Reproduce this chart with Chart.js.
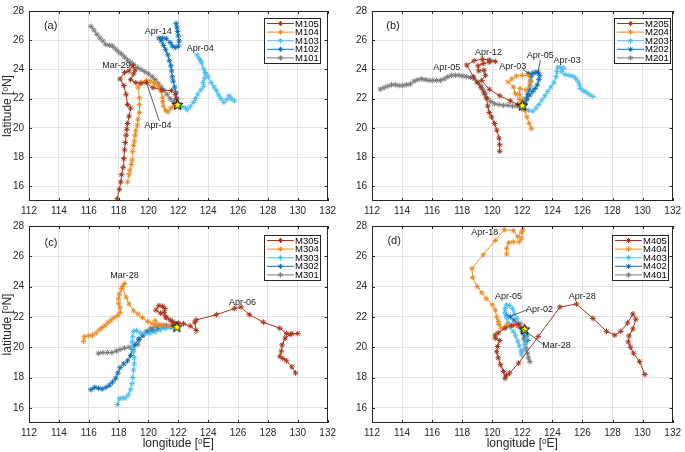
<!DOCTYPE html>
<html>
<head>
<meta charset="utf-8">
<script src="https://cdn.jsdelivr.net/npm/chart.js@4.4.1/dist/chart.umd.min.js"></script>
<style>
  body { margin: 0; background: #fff; }
  #wrap { position: relative; width: 685px; height: 452px; overflow: hidden; }
  canvas { position: absolute; }
</style>
</head>
<body>
<div id="wrap">
  <canvas id="pa" width="340" height="215" style="left:0;top:0"></canvas>
  <canvas id="pb" width="345" height="215" style="left:340px;top:0"></canvas>
  <canvas id="pc" width="340" height="237" style="left:0;top:215px"></canvas>
  <canvas id="pd" width="345" height="237" style="left:340px;top:215px"></canvas>
</div>
<script>
// axis ticks
const xTicks = [112, 114, 116, 118, 120, 122, 124, 126, 128, 130, 132];
const yTicks = [16, 18, 20, 22, 24, 26, 28];
const seriesColors = ['#a5351b', '#ec8b22', '#4dbeee', '#0a70ba', '#7b7b7b'];

// panel (a)  -- [lon, lat]
const namesA = ['M105', 'M104', 'M103', 'M102', 'M101'];
const startA = [121.95, 21.6];
const m105 = [[117.9,15.15],[118.05,15.8],[118.15,16.3],[118.2,16.8],[118.3,17.3],[118.35,17.9],[118.4,18.5],[118.45,19.0],[118.5,19.5],[118.55,19.9],[118.6,20.3],[118.7,20.8],[118.8,21.35],[118.6,21.6],[118.5,22.3],[118.35,22.9],[118.1,23.35],[118.4,23.8],[118.7,23.9],[118.95,24.25],[119.1,23.95],[119.0,23.7],[118.8,23.3],[119.15,23.1],[119.5,23.05],[119.85,23.1],[120.3,22.75],[120.9,22.6],[121.55,22.55],[121.8,22.3],[121.85,22.0],[121.95,21.6]];
const m104 = [[118.6,16.3],[118.7,16.8],[118.75,17.1],[118.85,17.5],[118.9,17.8],[118.95,18.4],[119.0,18.8],[119.05,19.1],[119.1,19.5],[119.15,19.8],[119.25,20.2],[119.3,20.6],[119.4,21.05],[119.4,21.6],[119.4,22.05],[119.3,22.8],[119.5,23.1],[119.85,23.25],[120.15,23.2],[120.4,23.05],[120.65,22.85],[120.85,22.5],[120.95,22.1],[120.95,21.8],[121.0,21.5],[121.15,21.2],[121.3,21.1],[121.5,21.35],[121.7,21.5],[121.95,21.6]];
const m103 = [[121.95,21.6],[122.2,21.45],[122.45,21.4],[122.6,21.25],[122.8,21.45],[123.0,21.75],[123.15,22.0],[123.3,22.3],[123.5,22.6],[123.7,22.85],[123.65,23.1],[123.75,23.4],[123.85,23.7],[123.7,24.05],[123.55,24.45],[123.4,24.75],[123.25,25.0],[123.5,24.6],[123.8,23.8],[124.0,23.5],[124.2,23.1],[124.4,22.8],[124.55,22.55],[124.7,22.25],[124.85,22.0],[125.05,21.75],[125.25,21.95],[125.4,22.2],[125.55,22.0],[125.75,21.85]];
const m102 = [[121.95,21.6],[121.9,22.0],[121.85,22.4],[121.75,22.8],[121.65,23.2],[121.6,23.5],[121.55,23.9],[121.5,24.25],[121.4,24.6],[121.3,25.0],[121.15,25.35],[121.0,25.65],[120.85,25.95],[120.7,26.15],[120.95,26.15],[121.2,26.1],[121.45,25.85],[121.6,25.6],[121.8,25.5],[122.0,25.6],[122.05,25.95],[122.0,26.3],[121.95,26.6],[121.9,26.9],[121.85,27.15]];
const m101 = [[116.15,26.95],[116.35,26.7],[116.55,26.4],[116.75,26.15],[116.95,25.95],[117.15,25.7],[117.4,25.65],[117.6,25.6],[117.8,25.4],[118.0,25.2],[118.2,25.05],[118.4,24.85],[118.6,24.65],[118.8,24.5],[119.0,24.35],[119.25,24.15],[119.5,24.0],[119.75,23.85],[120.0,23.7],[120.25,23.5],[120.45,23.3],[120.65,23.05],[120.85,22.8],[121.05,22.55],[121.25,22.3],[121.45,22.0],[121.65,21.8],[121.95,21.6]];

// panel (b)
const namesB = ['M205', 'M204', 'M203', 'M202', 'M201'];
const startB = [122.0, 21.55];
const m205 = [[120.5,18.4],[120.5,18.85],[120.45,19.3],[120.3,19.85],[120.15,20.3],[119.95,20.75],[119.8,21.05],[119.7,21.5],[119.6,22.05],[119.45,22.4],[119.25,22.75],[119.0,23.1],[118.75,23.5],[118.3,24.3],[118.8,24.6],[119.35,24.7],[119.8,24.65],[120.2,24.55],[119.8,24.5],[119.4,24.4],[119.05,24.25],[119.1,23.9],[119.45,23.95],[119.55,23.6],[119.3,23.25],[119.8,22.65],[120.5,22.2],[121.2,21.85],[121.7,21.6],[122.0,21.55]];
const m204 = [[122.6,19.95],[122.45,20.3],[122.3,20.75],[122.15,21.2],[122.0,21.55],[121.8,21.95],[121.55,22.35],[121.4,22.8],[121.05,23.15],[121.3,23.35],[121.6,23.55],[122.0,23.6],[122.4,23.6],[122.55,23.2],[122.5,22.9],[122.25,22.6],[121.85,22.7],[121.8,22.3],[122.05,21.95]];
const m203 = [[122.0,21.55],[122.2,21.3],[122.4,21.2],[122.7,21.15],[122.9,21.35],[123.1,21.6],[123.3,21.9],[123.5,22.2],[123.7,22.5],[123.9,22.8],[124.1,23.1],[124.25,23.5],[124.3,23.85],[124.35,24.15],[124.55,24.15],[124.75,24.1],[124.6,23.85],[124.85,23.65],[125.1,23.6],[125.35,23.55],[125.55,23.4],[125.7,23.2],[125.8,22.95],[125.85,22.7],[126.05,22.55],[126.25,22.45],[126.45,22.3],[126.7,22.15]];
const m202 = [[122.0,21.55],[122.05,21.3],[122.15,21.7],[122.25,22.0],[122.35,22.3],[122.45,22.6],[122.5,22.9],[122.55,23.2],[122.6,23.55],[122.4,23.7],[122.7,23.75],[122.9,23.8],[123.05,23.8],[123.15,23.6],[123.1,23.3],[123.0,22.95],[122.85,22.7],[122.7,22.5],[122.5,22.25],[122.3,21.95],[122.15,21.65]];
const m201 = [[112.55,22.65],[112.8,22.75],[113.05,22.85],[113.3,22.95],[113.55,22.95],[113.8,22.9],[114.05,22.9],[114.3,22.95],[114.55,23.0],[114.8,23.2],[115.05,23.3],[115.3,23.35],[115.55,23.3],[115.8,23.25],[116.05,23.25],[116.3,23.25],[116.55,23.25],[116.8,23.35],[117.05,23.5],[117.3,23.6],[117.55,23.6],[117.8,23.6],[118.05,23.55],[118.3,23.5],[118.55,23.45],[118.8,23.35],[119.05,23.15],[119.25,22.9],[119.4,22.6],[119.55,22.3],[119.7,22.0],[119.9,21.8],[120.15,21.65],[120.45,21.6],[120.75,21.55],[121.05,21.55],[121.35,21.5],[121.65,21.5],[122.0,21.55]];

// panel (c)
const namesC = ['M305', 'M304', 'M303', 'M302', 'M301'];
const startC = [121.9, 21.35];
const m305 = [[121.9,21.35],[121.7,21.6],[121.45,21.8],[121.15,22.0],[121.05,22.3],[121.1,22.55],[120.95,22.7],[120.7,22.75],[120.5,22.45],[120.8,22.25],[121.2,21.95],[121.6,21.7],[122.0,21.6],[122.35,21.55],[122.8,21.4],[123.2,21.1],[123.1,21.65],[123.2,21.8],[124.55,22.15],[125.75,22.55],[126.2,22.65],[126.75,22.15],[127.7,21.65],[128.8,21.25],[129.25,20.9],[129.6,20.9],[130.0,20.9],[129.5,20.85],[129.15,20.6],[128.95,20.15],[128.9,19.75],[128.8,19.4],[129.0,19.25],[129.25,19.1],[129.6,18.7],[129.85,18.3]];
const m304 = [[115.65,20.4],[115.7,20.7],[116.0,20.75],[116.25,20.8],[116.5,20.95],[116.7,21.15],[116.9,21.3],[117.1,21.45],[117.3,21.65],[117.5,21.8],[117.7,21.95],[117.95,22.1],[118.1,22.3],[118.1,22.6],[118.0,22.9],[118.0,23.2],[118.05,23.5],[118.2,23.85],[118.4,24.2],[118.25,24.0],[118.5,23.3],[118.7,22.85],[119.0,22.4],[119.3,22.2],[119.6,21.95],[119.95,21.7],[120.25,21.55],[120.5,21.45],[120.45,21.75],[120.7,21.5],[121.0,21.45],[121.4,21.4],[121.9,21.35]];
const m303 = [[117.92,16.22],[118.05,16.6],[118.25,16.65],[118.45,16.65],[118.65,16.85],[118.8,17.2],[118.9,17.6],[118.95,18.0],[119.0,18.5],[119.05,18.9],[119.05,19.3],[119.0,19.7],[118.9,20.0],[118.9,20.35],[118.95,20.7],[119.0,21.05],[119.2,21.1],[119.45,20.95],[119.75,20.9],[120.1,20.9],[120.45,21.0],[120.8,21.15],[121.15,21.25],[121.5,21.3],[121.9,21.35]];
const m302 = [[116.15,17.2],[116.4,17.35],[116.65,17.3],[116.9,17.25],[117.15,17.35],[117.4,17.5],[117.6,17.7],[117.8,17.95],[117.95,18.3],[118.1,18.65],[118.35,18.9],[118.6,19.1],[118.8,19.45],[118.95,19.85],[119.1,20.2],[119.35,20.55],[119.65,20.8],[119.95,21.0],[120.3,21.1],[120.7,21.2],[121.1,21.3],[121.5,21.35],[121.9,21.35]];
const m301 = [[116.65,19.6],[116.95,19.65],[117.25,19.65],[117.55,19.65],[117.85,19.75],[118.1,19.85],[118.4,19.95],[118.7,20.0],[119.0,20.05],[119.3,20.2],[119.4,20.5],[119.6,20.8],[119.85,21.05],[120.15,21.25],[120.5,21.35],[120.85,21.45],[121.2,21.45],[121.55,21.4],[121.9,21.35]];

// panel (d)
const namesD = ['M405', 'M404', 'M403', 'M402', 'M401'];
const startD = [122.15, 21.2];
const m405 = [[122.15,21.2],[121.75,21.5],[121.3,21.45],[120.85,21.25],[120.4,20.95],[120.2,20.8],[120.2,20.6],[120.5,20.45],[120.35,20.05],[120.3,19.7],[120.4,19.3],[120.55,18.85],[120.75,18.4],[120.85,17.95],[120.95,18.15],[121.15,18.3],[121.75,18.95],[123.05,20.7],[124.5,22.65],[125.6,22.85],[126.7,21.9],[127.6,21.05],[128.15,20.8],[128.55,21.05],[129.0,21.6],[129.35,22.2],[129.55,21.85],[129.35,21.2],[129.1,20.75],[129.05,20.35],[129.2,20.0],[129.4,19.6],[129.8,19.05],[130.15,18.2]];
const m404 = [[122.15,21.2],[121.7,21.4],[121.4,21.45],[120.95,21.45],[120.6,21.25],[120.45,21.5],[120.4,21.7],[120.3,22.0],[120.2,22.45],[120.0,22.8],[119.6,23.2],[119.3,23.6],[119.0,24.0],[118.7,24.6],[118.65,25.2],[119.4,26.1],[120.2,27.05],[120.8,27.75],[121.4,27.7],[121.7,27.3],[121.95,27.6],[122.05,27.75],[121.95,27.2],[121.8,26.95],[121.4,26.95],[121.1,26.9],[120.95,26.5],[120.95,26.15]];
const m403 = [[122.15,21.2],[121.9,21.55],[121.65,21.9],[121.45,22.25],[121.35,22.55],[121.15,22.75],[120.95,22.8],[120.85,22.55],[120.85,22.3],[120.95,21.95],[121.05,21.6],[121.2,21.3],[121.4,21.05],[121.55,20.75],[121.7,20.4],[121.8,20.1],[121.9,19.75],[121.95,19.5],[122.05,19.8],[122.2,20.2],[122.3,20.6],[122.2,20.95],[122.15,21.2]];
const m402 = [[120.95,22.1],[121.2,22.0],[121.45,21.8],[121.65,21.55],[121.85,21.3],[122.0,21.05],[122.2,20.75],[122.35,20.45],[122.3,20.8],[122.15,21.2]];
const m401 = [[122.15,21.2],[122.05,20.9],[122.1,20.55],[122.2,20.2],[122.25,19.9],[122.35,19.6],[122.4,19.3],[122.5,19.05]];

// date labels [text, lon, lat, size] and leader lines [lon1, lat1, lon2, lat2]
const notesA = [['(a)',113.45,27.0,11],['Mar-29',117.86,24.26,9],['Apr-14',120.66,26.61,9],['Apr-04',123.47,25.42,9],['Apr-04',120.64,20.18,9]];
const leadersA = [[120.72,20.48,119.87,23.1]];
const notesB = [['(b)',113.4,26.96,11],['Apr-12',119.75,25.18,9],['Apr-05',116.97,24.15,9],['Apr-03',121.36,24.19,9],['Apr-05',123.19,24.92,9],['Apr-03',124.98,24.59,9]];
const leadersB = [[122.05,23.98,122.6,23.65],[123.2,24.65,123.05,23.8]];
const notesC = [['(c)',113.47,26.9,11],['Mar-28',118.4,24.73,9],['Apr-06',126.3,22.98,9]];
const leadersC = [];
const notesD = [['(d)',113.47,27.0,11],['Apr-18',119.5,27.56,9],['Apr-05',121.08,23.34,9],['Apr-02',123.14,22.46,9],['Apr-28',125.98,23.34,9],['Mar-28',124.28,20.12,9]];
const leadersD = [[122.33,22.48,121.17,22.02],[123.42,20.16,122.04,21.2]];

Chart.defaults.font.family = '"Liberation Sans", Arial, Helvetica, sans-serif';
Chart.defaults.color = '#262626';

function makeStar(size) {
  const c = document.createElement('canvas');
  c.width = c.height = size;
  const g = c.getContext('2d');
  const cx = size / 2, cy = size / 2 + 0.5, R = size / 2 - 1, r = R * 0.42;
  g.beginPath();
  for (let i = 0; i < 10; i++) {
    const ang = -Math.PI / 2 + i * Math.PI / 5;
    const rr = i % 2 ? r : R;
    g.lineTo(cx + rr * Math.cos(ang), cy + rr * Math.sin(ang));
  }
  g.closePath();
  g.fillStyle = '#ffff00';
  g.fill();
  g.strokeStyle = '#000';
  g.lineWidth = 1;
  g.stroke();
  return c;
}
const starImg = makeStar(13);

function asterisk(ctx, x, y, r) {
  ctx.beginPath();
  ctx.moveTo(x - r, y); ctx.lineTo(x + r, y);
  ctx.moveTo(x, y - r); ctx.lineTo(x, y + r);
  const d = r * 0.7;
  ctx.moveTo(x - d, y - d); ctx.lineTo(x + d, y + d);
  ctx.moveTo(x - d, y + d); ctx.lineTo(x + d, y - d);
  ctx.stroke();
}

const panels = {};

const decor = {
  id: 'decor',
  afterDatasetsDraw(chart) {
    const p = panels[chart.canvas.id];
    const { ctx, chartArea: a } = chart;
    const sx = chart.scales.x, sy = chart.scales.y;
    ctx.save();
    ctx.strokeStyle = '#262626';
    ctx.lineWidth = 1;
    ctx.strokeRect(Math.round(a.left) + 0.5, Math.round(a.top) + 0.5, Math.round(a.width) - 1, Math.round(a.height) - 1);
    // inward tick marks
    ctx.beginPath();
    xTicks.forEach(v => {
      const px = Math.round(sx.getPixelForValue(v)) + 0.5;
      ctx.moveTo(px, a.bottom); ctx.lineTo(px, a.bottom - 3);
      ctx.moveTo(px, a.top); ctx.lineTo(px, a.top + 3);
    });
    yTicks.forEach(v => {
      const py = Math.round(sy.getPixelForValue(v)) + 0.5;
      ctx.moveTo(a.left, py); ctx.lineTo(a.left + 3, py);
      ctx.moveTo(a.right, py); ctx.lineTo(a.right - 3, py);
    });
    ctx.stroke();

    // leader lines
    ctx.strokeStyle = '#333';
    ctx.lineWidth = 0.8;
    p.leaders.forEach(l => {
      ctx.beginPath();
      ctx.moveTo(sx.getPixelForValue(l[0]), sy.getPixelForValue(l[1]));
      ctx.lineTo(sx.getPixelForValue(l[2]), sy.getPixelForValue(l[3]));
      ctx.stroke();
    });

    // labels
    ctx.fillStyle = '#1a1a1a';
    ctx.textAlign = 'center';
    ctx.textBaseline = 'middle';
    p.notes.forEach(n => {
      ctx.font = n[3] + 'px "Liberation Sans", Arial, sans-serif';
      ctx.fillText(n[0], sx.getPixelForValue(n[1]), sy.getPixelForValue(n[2]));
    });

    // legend box
    const w = 56, h = 45;
    const lx = Math.round(a.right - p.legendAt[0] - w), ly = Math.round(a.top + p.legendAt[1]);
    ctx.fillStyle = '#fff';
    ctx.fillRect(lx, ly, w, h);
    ctx.strokeStyle = '#262626';
    ctx.lineWidth = 1;
    ctx.strokeRect(lx + 0.5, ly + 0.5, w, h);
    ctx.font = '9.5px "Liberation Sans", Arial, sans-serif';
    ctx.textAlign = 'left';
    p.names.forEach((name, i) => {
      const cy = ly + 5.5 + i * 8.6;
      ctx.strokeStyle = seriesColors[i];
      ctx.beginPath();
      ctx.moveTo(lx + 3, cy); ctx.lineTo(lx + 30, cy);
      ctx.stroke();
      asterisk(ctx, lx + 16.5, cy, 2.6);
      ctx.fillStyle = '#000';
      ctx.fillText(name, lx + 31, cy + 0.5);
    });
    ctx.restore();
  }
};

function makePanel(id, names, series, start, notes, leaders, lay) {
  panels[id] = { names, notes, leaders, legendAt: lay.legendAt };
  const datasets = [{
    label: 'start',
    data: [{ x: start[0], y: start[1] }],
    showLine: false,
    pointStyle: starImg,
    pointRadius: 6
  }];
  series.forEach((s, i) => datasets.push({
    label: names[i],
    data: s.map(pt => ({ x: pt[0], y: pt[1] })),
    showLine: true,
    borderColor: seriesColors[i],
    backgroundColor: seriesColors[i],
    borderWidth: 1,
    pointStyle: 'star',
    pointRadius: 2.8,
    pointBorderWidth: 1,
    pointBorderColor: seriesColors[i]
  }));

  new Chart(document.getElementById(id), {
    type: 'scatter',
    data: { datasets },
    plugins: [decor],
    options: {
      responsive: false,
      animation: false,
      devicePixelRatio: 1,
      layout: { padding: { left: 0, top: lay.top, right: lay.right, bottom: 0 } },
      plugins: { legend: { display: false }, tooltip: { enabled: false } },
      scales: {
        x: {
          type: 'linear', min: 112, max: 132,
          afterBuildTicks: s => { s.ticks = xTicks.map(v => ({ value: v })); },
          afterFit: s => { s.height = lay.xh; },
          grid: { color: '#e2e2e2', drawTicks: false },
          border: { display: false },
          ticks: { font: { size: 10 }, padding: 4, maxRotation: 0, autoSkip: false },
          title: { display: lay.xTitle, text: 'longitude [ᵒE]', font: { size: 12 }, padding: { top: 0, bottom: 1 } }
        },
        y: {
          type: 'linear', min: 15, max: 28,
          afterBuildTicks: s => { s.ticks = yTicks.map(v => ({ value: v })); },
          afterFit: s => { s.width = lay.yw; },
          grid: { color: '#e2e2e2', drawTicks: false },
          border: { display: false },
          ticks: { font: { size: 10 }, padding: 5, autoSkip: false },
          title: { display: lay.yTitle, text: 'latitude [ᵒN]', font: { size: 12 }, padding: { top: 0, bottom: 0 } }
        }
      }
    }
  });
}

makePanel('pa', namesA, [m105, m104, m103, m102, m101], startA, notesA, leadersA,
  { top: 5, right: 7, xh: 14, yw: 29, xTitle: false, yTitle: true, legendAt: [8, 7] });
makePanel('pb', namesB, [m205, m204, m203, m202, m201], startB, notesB, leadersB,
  { top: 5, right: 12, xh: 14, yw: 32, xTitle: false, yTitle: false, legendAt: [3, 7] });
makePanel('pc', namesC, [m305, m304, m303, m302, m301], startC, notesC, leadersC,
  { top: 10, right: 7, xh: 29, yw: 29, xTitle: true, yTitle: true, legendAt: [8, 9] });
makePanel('pd', namesD, [m405, m404, m403, m402, m401], startD, notesD, leadersD,
  { top: 10, right: 12, xh: 29, yw: 32, xTitle: true, yTitle: false, legendAt: [5, 9] });
</script>
</body>
</html>
